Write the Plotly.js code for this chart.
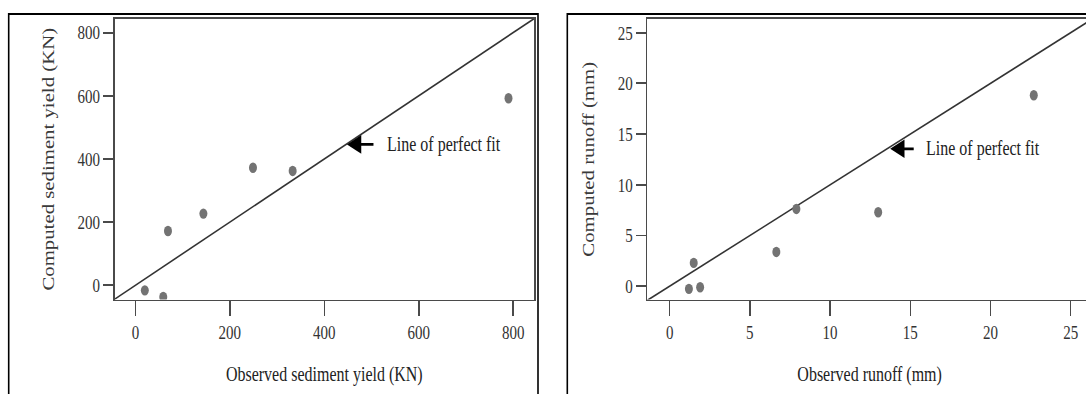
<!DOCTYPE html>
<html>
<head>
<meta charset="utf-8">
<script src="https://cdn.plot.ly/plotly-3.0.1.min.js"></script>
<style>
html,body{margin:0;padding:0;background:#fff;overflow:hidden;width:1086px;height:394px;}
#plot{width:1100px;height:304px;transform:scaleY(1.3);transform-origin:0 0;}
</style>
</head>
<body>
<div id="plot"></div>
<script>
// Left panel: sediment yield (KN)
const obsSediment = [20, 59, 69, 144, 249, 333, 790];
const compSediment = [-16, -37, 172, 227, 372, 362, 592];
const sedimentTicks = [0, 200, 400, 600, 800];
const sedimentFitLine = [-50, 900];

// Right panel: runoff (mm)
const obsRunoff = [1.2, 1.9, 1.5, 6.65, 7.9, 13.0, 22.7];
const compRunoff = [-0.26, -0.1, 2.3, 3.38, 7.62, 7.29, 18.83];
const runoffTicks = [0, 5, 10, 15, 20, 25];
const runoffFitLine = [-2, 30];

const fitLabel = "Line of perfect fit";
const sedimentArrowTip = [448, 446];
const runoffArrowTip = [13.75, 13.55];

const W = 1100, H = 304, S = 1.3;
const px = v => v / W;
const py = v => (H - v / S) / H;

const serif = "Liberation Serif, Times New Roman, serif";
const markerStyle = {color: '#737373', size: 8};
const lineStyle = {color: '#333', width: 1.3};

const traces = [
  {x: sedimentFitLine, y: sedimentFitLine, mode: 'lines', line: lineStyle, xaxis: 'x', yaxis: 'y', hoverinfo: 'skip'},
  {x: obsSediment, y: compSediment, mode: 'markers', marker: markerStyle, xaxis: 'x', yaxis: 'y'},
  {x: runoffFitLine, y: runoffFitLine, mode: 'lines', line: lineStyle, xaxis: 'x2', yaxis: 'y2', hoverinfo: 'skip'},
  {x: obsRunoff, y: compRunoff, mode: 'markers', marker: markerStyle, xaxis: 'x2', yaxis: 'y2'}
];

const yDom = [py(299.5), py(19)];
function ax(domain, range, ticks, title, isX, anchor, standoff) {
  return {
    domain: domain, range: range, tickvals: ticks, ticktext: ticks.map(String),
    showgrid: false, zeroline: false,
    showline: true, mirror: true, linecolor: '#4a4a4a', linewidth: 1.5,
    ticks: 'outside', ticklen: isX ? 11 : 10, tickwidth: 1.5, tickcolor: '#4a4a4a',
    tickfont: {family: serif, size: 15, color: '#333'},
    title: {text: title, font: {family: serif, size: 16, color: isX ? '#222' : '#3a3a3a'}, standoff: standoff},
    anchor: anchor, automargin: false, fixedrange: true
  };
}

const layout = {
  width: W, height: H,
  margin: {l: 0, r: 0, t: 0, b: 0},
  paper_bgcolor: '#fff', plot_bgcolor: '#fff',
  showlegend: false,
  xaxis: ax([px(114.6), px(534)], [-44, 844], sedimentTicks, 'Observed sediment yield (KN)', true, 'y', 19),
  yaxis: ax(yDom, [-45, 843], sedimentTicks, 'Computed sediment yield (KN)', false, 'x', 19),
  xaxis2: ax([px(647.2), px(1092)], [-1.4, 26.33], runoffTicks, 'Observed runoff (mm)', true, 'y2', 19),
  yaxis2: ax(yDom, [-1.31, 26.35], runoffTicks, 'Computed runoff (mm)', false, 'x2', 19),
  shapes: [
    {type: 'rect', xref: 'paper', yref: 'paper', x0: px(8.7), x1: px(538), y0: -0.2, y1: py(14), line: {color: '#000', width: 1.6}},
    {type: 'rect', xref: 'paper', yref: 'paper', x0: px(567.3), x1: 1.2, y0: -0.2, y1: py(14), line: {color: '#000', width: 1.6}}
  ],
  annotations: [
    {xref: 'x', yref: 'y', x: sedimentArrowTip[0], y: sedimentArrowTip[1], text: '', showarrow: true,
     axref: 'pixel', ayref: 'pixel', ax: 28, ay: 0, arrowhead: 2, arrowsize: 1.3, arrowwidth: 2.2, arrowcolor: '#000'},
    {xref: 'x', yref: 'y', x: sedimentArrowTip[0], y: sedimentArrowTip[1], text: fitLabel, showarrow: false,
     xanchor: 'left', yanchor: 'middle', xshift: 38, font: {family: serif, size: 16, color: '#222'}},
    {xref: 'x2', yref: 'y2', x: runoffArrowTip[0], y: runoffArrowTip[1], text: '', showarrow: true,
     axref: 'pixel', ayref: 'pixel', ax: 25, ay: 0, arrowhead: 2, arrowsize: 1.3, arrowwidth: 2.2, arrowcolor: '#000'},
    {xref: 'x2', yref: 'y2', x: runoffArrowTip[0], y: runoffArrowTip[1], text: fitLabel, showarrow: false,
     xanchor: 'left', yanchor: 'middle', xshift: 34, font: {family: serif, size: 16, color: '#222'}}
  ]
};

Plotly.newPlot('plot', traces, layout, {displayModeBar: false, staticPlot: true});
</script>
</body>
</html>
